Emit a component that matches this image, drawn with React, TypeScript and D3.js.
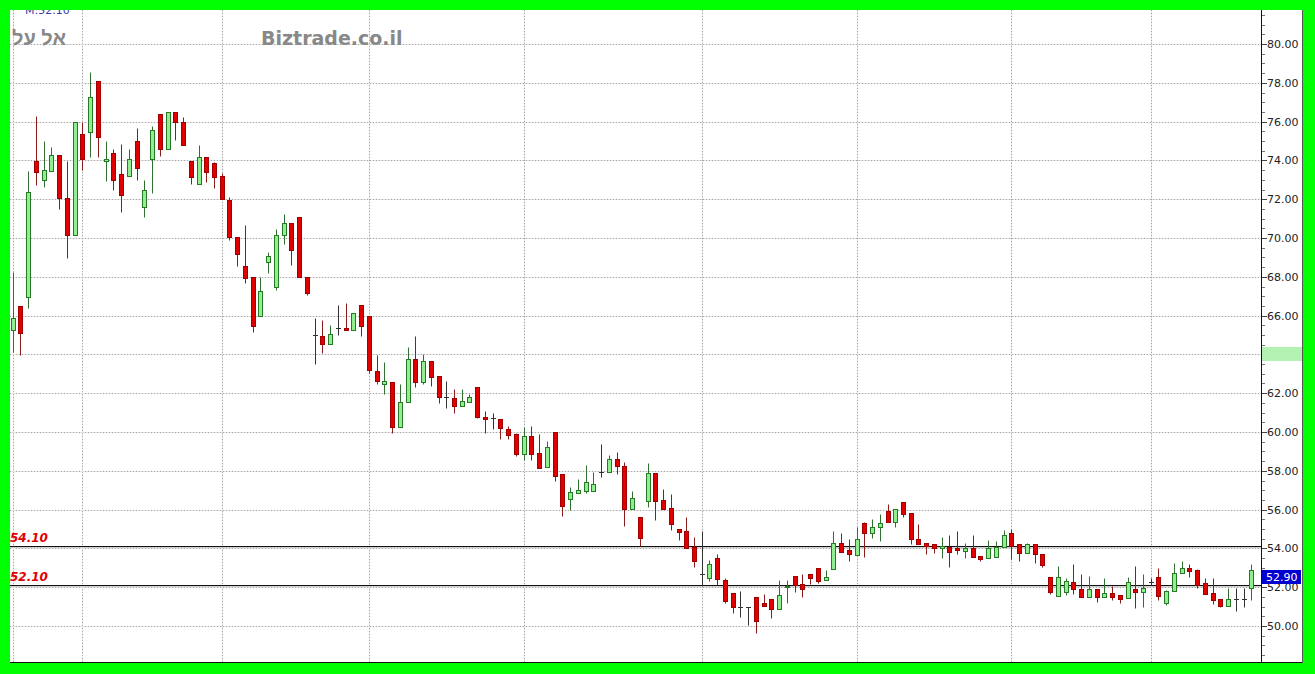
import React from 'react';
import * as d3 from 'd3';

const opens = [65.25,66.51,66.94,73.97,72.97,73.43,74.26,72.08,70.15,75.36,75.46,78.09,73.97,74.36,73.28,73.19,75.00,71.58,74.05,76.39,74.57,76.47,75.96,73.95,72.76,74.15,73.85,73.18,71.96,70.05,68.55,68.00,65.98,68.75,67.49,70.15,70.76,71.10,67.97,65.00,64.95,64.54,65.38,65.38,65.26,66.55,66.00,63.16,62.48,62.58,60.28,61.57,63.77,62.60,63.68,62.89,61.79,61.77,61.36,61.57,62.31,60.79,60.70,60.66,60.17,59.88,58.85,59.79,58.90,58.18,59.98,57.82,56.55,56.87,56.96,56.96,57.96,57.94,58.59,58.26,56.01,55.60,56.46,57.87,56.49,56.07,54.98,54.90,54.09,52.66,52.46,53.52,52.37,51.68,50.96,50.96,51.48,51.17,51.37,50.86,51.99,52.58,52.16,52.68,52.97,52.37,52.96,54.26,53.92,53.64,55.29,54.78,55.09,55.93,55.38,56.37,55.81,54.47,54.26,54.21,54.00,54.09,54.00,53.88,54.00,53.61,53.49,53.57,54.09,54.78,54.23,53.78,54.23,53.69,52.51,51.56,51.77,52.29,51.89,51.48,51.89,51.48,51.68,51.58,51.43,51.89,51.77,52.29,52.51,51.17,51.80,52.75,52.97,52.89,52.20,51.68,51.37,51.03,51.37,51.37,51.98];
const highs = [68.26,66.51,73.47,76.29,75.01,74.70,74.26,73.97,75.96,75.99,78.54,78.09,75.01,74.57,74.84,74.57,75.65,72.99,75.77,76.39,76.47,76.47,76.22,73.95,74.79,74.15,73.93,73.33,72.09,70.05,70.67,68.00,67.97,69.29,70.45,71.24,70.76,71.10,67.97,65.86,65.78,65.52,66.55,66.67,66.12,66.55,66.00,63.96,63.60,62.58,62.48,64.37,64.97,64.02,63.68,62.89,62.65,62.20,62.20,61.95,62.31,61.10,61.00,60.66,60.30,59.93,60.24,60.31,59.90,59.55,59.98,57.82,57.18,57.56,58.30,57.96,59.38,58.81,58.99,58.47,56.96,55.60,58.38,57.87,57.04,56.79,54.98,55.60,54.57,54.90,53.40,53.69,52.46,51.68,51.82,50.96,51.48,51.63,51.37,52.37,52.37,52.58,52.68,52.68,52.97,52.89,54.91,54.78,54.47,55.09,55.38,55.50,55.76,56.27,56.01,56.37,55.81,55.24,54.26,54.21,54.60,54.69,54.90,54.26,54.69,53.61,54.43,54.40,54.95,54.98,54.23,54.30,54.23,53.69,52.51,53.09,52.46,53.20,52.68,52.58,51.89,52.46,52.06,51.58,52.54,53.09,52.68,52.46,52.97,51.85,53.23,53.37,53.20,52.95,52.46,52.46,51.37,51.94,51.94,51.94,53.20];
const lows = [64.14,63.97,66.37,72.73,72.64,73.43,71.47,68.95,70.15,73.50,74.19,74.15,72.95,72.47,71.35,73.19,72.99,71.06,72.30,74.24,74.57,75.05,74.77,72.76,72.76,72.88,72.56,71.99,69.89,68.55,67.69,65.17,65.98,68.18,67.30,69.68,68.61,68.00,67.06,63.51,64.06,64.54,65.00,65.26,65.26,64.97,63.03,62.48,61.96,59.97,60.28,61.57,62.31,62.48,62.39,61.48,61.22,61.00,61.36,61.57,60.71,59.97,60.14,59.62,59.62,58.76,58.56,58.56,58.16,58.18,57.47,55.67,55.98,56.87,56.87,56.96,57.70,57.94,57.84,55.15,56.01,54.12,56.12,55.46,56.01,54.95,54.43,54.00,53.02,52.08,52.32,52.11,51.20,50.69,50.48,50.05,49.62,51.03,50.40,50.86,51.20,51.77,51.48,52.15,52.20,52.37,52.96,53.83,53.37,53.64,53.57,54.55,54.40,55.38,55.09,55.60,54.21,54.23,53.69,53.78,53.49,53.02,53.71,53.49,53.57,53.37,53.49,53.57,54.09,53.44,53.37,53.78,53.26,53.02,51.63,51.56,51.60,51.65,51.48,51.48,51.25,51.48,51.34,51.20,51.43,50.93,50.96,52.11,51.34,51.10,51.80,52.75,52.51,51.94,51.65,51.13,50.96,51.03,50.79,51.00,51.34];
const closes = [65.89,65.08,72.35,73.42,73.50,74.26,72.08,70.15,75.96,74.05,77.25,75.19,74.07,72.99,72.21,74.05,73.59,72.47,75.56,74.57,76.47,75.96,74.77,73.12,74.15,73.42,73.12,71.99,70.03,69.17,67.92,65.46,67.28,69.07,70.15,70.76,69.38,68.00,67.18,65.00,64.54,65.07,65.38,65.26,66.12,65.48,63.20,62.65,62.62,60.28,61.57,63.77,62.60,63.68,62.86,61.79,61.79,61.34,61.58,61.79,60.76,60.69,60.70,60.19,59.85,58.85,59.79,58.87,58.16,59.21,57.73,56.19,56.89,57.01,57.42,57.30,57.96,58.59,58.26,56.01,56.58,54.52,57.87,56.46,56.01,55.24,54.85,54.04,53.37,52.66,53.18,52.41,51.31,50.96,50.96,50.96,50.27,51.03,50.86,51.60,52.08,52.11,51.89,52.46,52.34,52.51,54.26,53.83,53.69,54.47,54.78,55.09,55.29,55.38,56.01,55.76,54.48,54.23,54.14,54.00,54.12,53.80,53.92,54.00,53.57,53.47,54.00,54.09,54.69,54.14,53.78,54.23,53.69,53.14,51.77,52.54,52.32,51.89,51.48,51.89,51.48,51.68,51.48,51.37,52.29,51.77,51.98,52.29,51.55,51.80,52.75,52.97,52.85,52.11,51.65,51.34,51.03,51.37,51.37,51.37,52.90];

const monthStarts = [0, 9, 27, 46, 66, 89, 109, 129, 147];
const levelValues = [54.1, 52.1];
const levelLabels = ['54.10', '52.10'];
const yTickValues = d3.range(50, 81, 2);
const minorTickValues = d3.range(48.5, 81.6, 0.5);
const bandValue = 64;
const lastPriceLabel = '52.90';
const titleText = 'אל על';
const siteText = 'Biztrade.co.il';
const markerText = 'M:52.10';

export default function App() {
  const W = 1315, H = 674;
  const left = 10, top = 10, plotRight = 1261, panelRight = 1303, bottom = 663;
  const x = d3.scaleLinear().domain([0, opens.length - 1]).range([12.7, 1251.4]);
  const y = d3.scaleLinear().domain([50, 80]).range([626, 44]);
  const fmt = d3.format('.2f');
  const py = (v: number) => Math.round(y(v)) + 0.5;

  const candles = opens.map((o, i) => {
    const c = closes[i];
    const cx = Math.round(x(i));
    const hi = highs[i], lo = lows[i];
    const doji = Math.abs(o - c) < 0.005;
    if (doji) {
      return (
        <g key={i} stroke="#333" strokeWidth={1}>
          <line x1={cx + 0.5} x2={cx + 0.5} y1={py(hi)} y2={py(lo)} />
          <line x1={cx - 2} x2={cx + 3} y1={py(o)} y2={py(o)} />
        </g>
      );
    }
    const up = c > o;
    const yt = Math.round(y(Math.max(o, c)));
    const yb = Math.round(y(Math.min(o, c)));
    const h = Math.max(1, yb - yt);
    return (
      <g key={i}>
        <line x1={cx + 0.5} x2={cx + 0.5} y1={py(hi)} y2={py(lo)}
          stroke={up ? '#2f6f2f' : '#8a1c1c'} strokeWidth={1} />
        <rect x={cx - 1.5} y={yt + 0.5} width={4} height={h}
          fill={up ? '#90ee90' : '#e00000'} stroke={up ? '#267a26' : '#a00000'} strokeWidth={1} />
      </g>
    );
  });

  const lastY = Math.round(y(closes[closes.length - 1]));

  return (
    <svg width={W} height={H} style={{ position: 'absolute', left: 0, top: 0, display: 'block' }}
      fontFamily="'DejaVu Sans', Verdana, sans-serif">
      <defs>
        <clipPath id="panel">
          <rect x={left} y={top} width={panelRight - left} height={bottom - top} />
        </clipPath>
      </defs>
      <rect x={0} y={0} width={W} height={H} fill="#00ff00" />
      <rect x={left} y={top} width={panelRight - left} height={bottom - top} fill="#ffffff" />
      <g clipPath="url(#panel)">
        {/* grid */}
        {yTickValues.map(v => (
          <g key={'h' + v}>
            <line x1={left} x2={plotRight} y1={py(v)} y2={py(v)} stroke="#e4e4e4" />
            <line x1={left} x2={plotRight} y1={py(v)} y2={py(v)} stroke="#a8a8a8" strokeDasharray="1,2" />
          </g>
        ))}
        {monthStarts.map(i => {
          const gx = Math.round(x(i)) + 0.5;
          return (
            <g key={'v' + i}>
              <line x1={gx} x2={gx} y1={top} y2={bottom} stroke="#e4e4e4" />
              <line x1={gx} x2={gx} y1={top} y2={bottom} stroke="#a8a8a8" strokeDasharray="1,2" />
            </g>
          );
        })}
        {/* level lines */}
        {levelValues.map((v, k) => (
          <g key={'l' + v}>
            <line x1={left} x2={plotRight} y1={py(v) + 1} y2={py(v) + 1} stroke="#d0d0d0" />
            <line x1={left} x2={plotRight} y1={py(v)} y2={py(v)} stroke="#111" />
            <text x={left} y={y(v) - 4.5} fill="#e00000" fontSize={12} fontWeight="bold" fontStyle="italic">{levelLabels[k]}</text>
          </g>
        ))}
        {candles}
        <text x={25} y={14} fill="#3a3aa8" fontSize={11}>{markerText}</text>
        <text x={12} y={45} fill="#888" fontSize={20} fontWeight="bold"
          fontFamily="'Liberation Sans', Arial, sans-serif">{titleText}</text>
        <text x={261} y={45} fill="#888" fontSize={19} fontWeight="bold">{siteText}</text>
        {/* axis */}
        <line x1={plotRight + 0.5} x2={plotRight + 0.5} y1={top} y2={bottom} stroke="#111" />
        <line x1={left} x2={panelRight} y1={bottom - 0.5} y2={bottom - 0.5} stroke="#111" />
        {minorTickValues.map(v => (
          <line key={'m' + v} x1={plotRight + 1} x2={plotRight + 4} y1={py(v)} y2={py(v)} stroke="#777" />
        ))}
        {yTickValues.map(v => (
          <g key={'t' + v}>
            <line x1={plotRight + 1} x2={plotRight + 6} y1={py(v)} y2={py(v)} stroke="#444" />
            <text x={1267} y={y(v) + 4} fill="#222" fontSize={11}>{fmt(v)}</text>
          </g>
        ))}
        <rect x={plotRight + 1} y={Math.round(y(bandValue)) - 7} width={panelRight - plotRight - 1} height={14} fill="#b4f2b4" />
        <rect x={plotRight + 1} y={lastY} width={panelRight - plotRight - 3} height={14} fill="#0000d0" />
        <text x={1266} y={lastY + 11} fill="#ffffff" fontSize={11}>{lastPriceLabel}</text>
        <line x1={panelRight - 0.5} x2={panelRight - 0.5} y1={top} y2={bottom} stroke="#555" />
      </g>
    </svg>
  );
}
